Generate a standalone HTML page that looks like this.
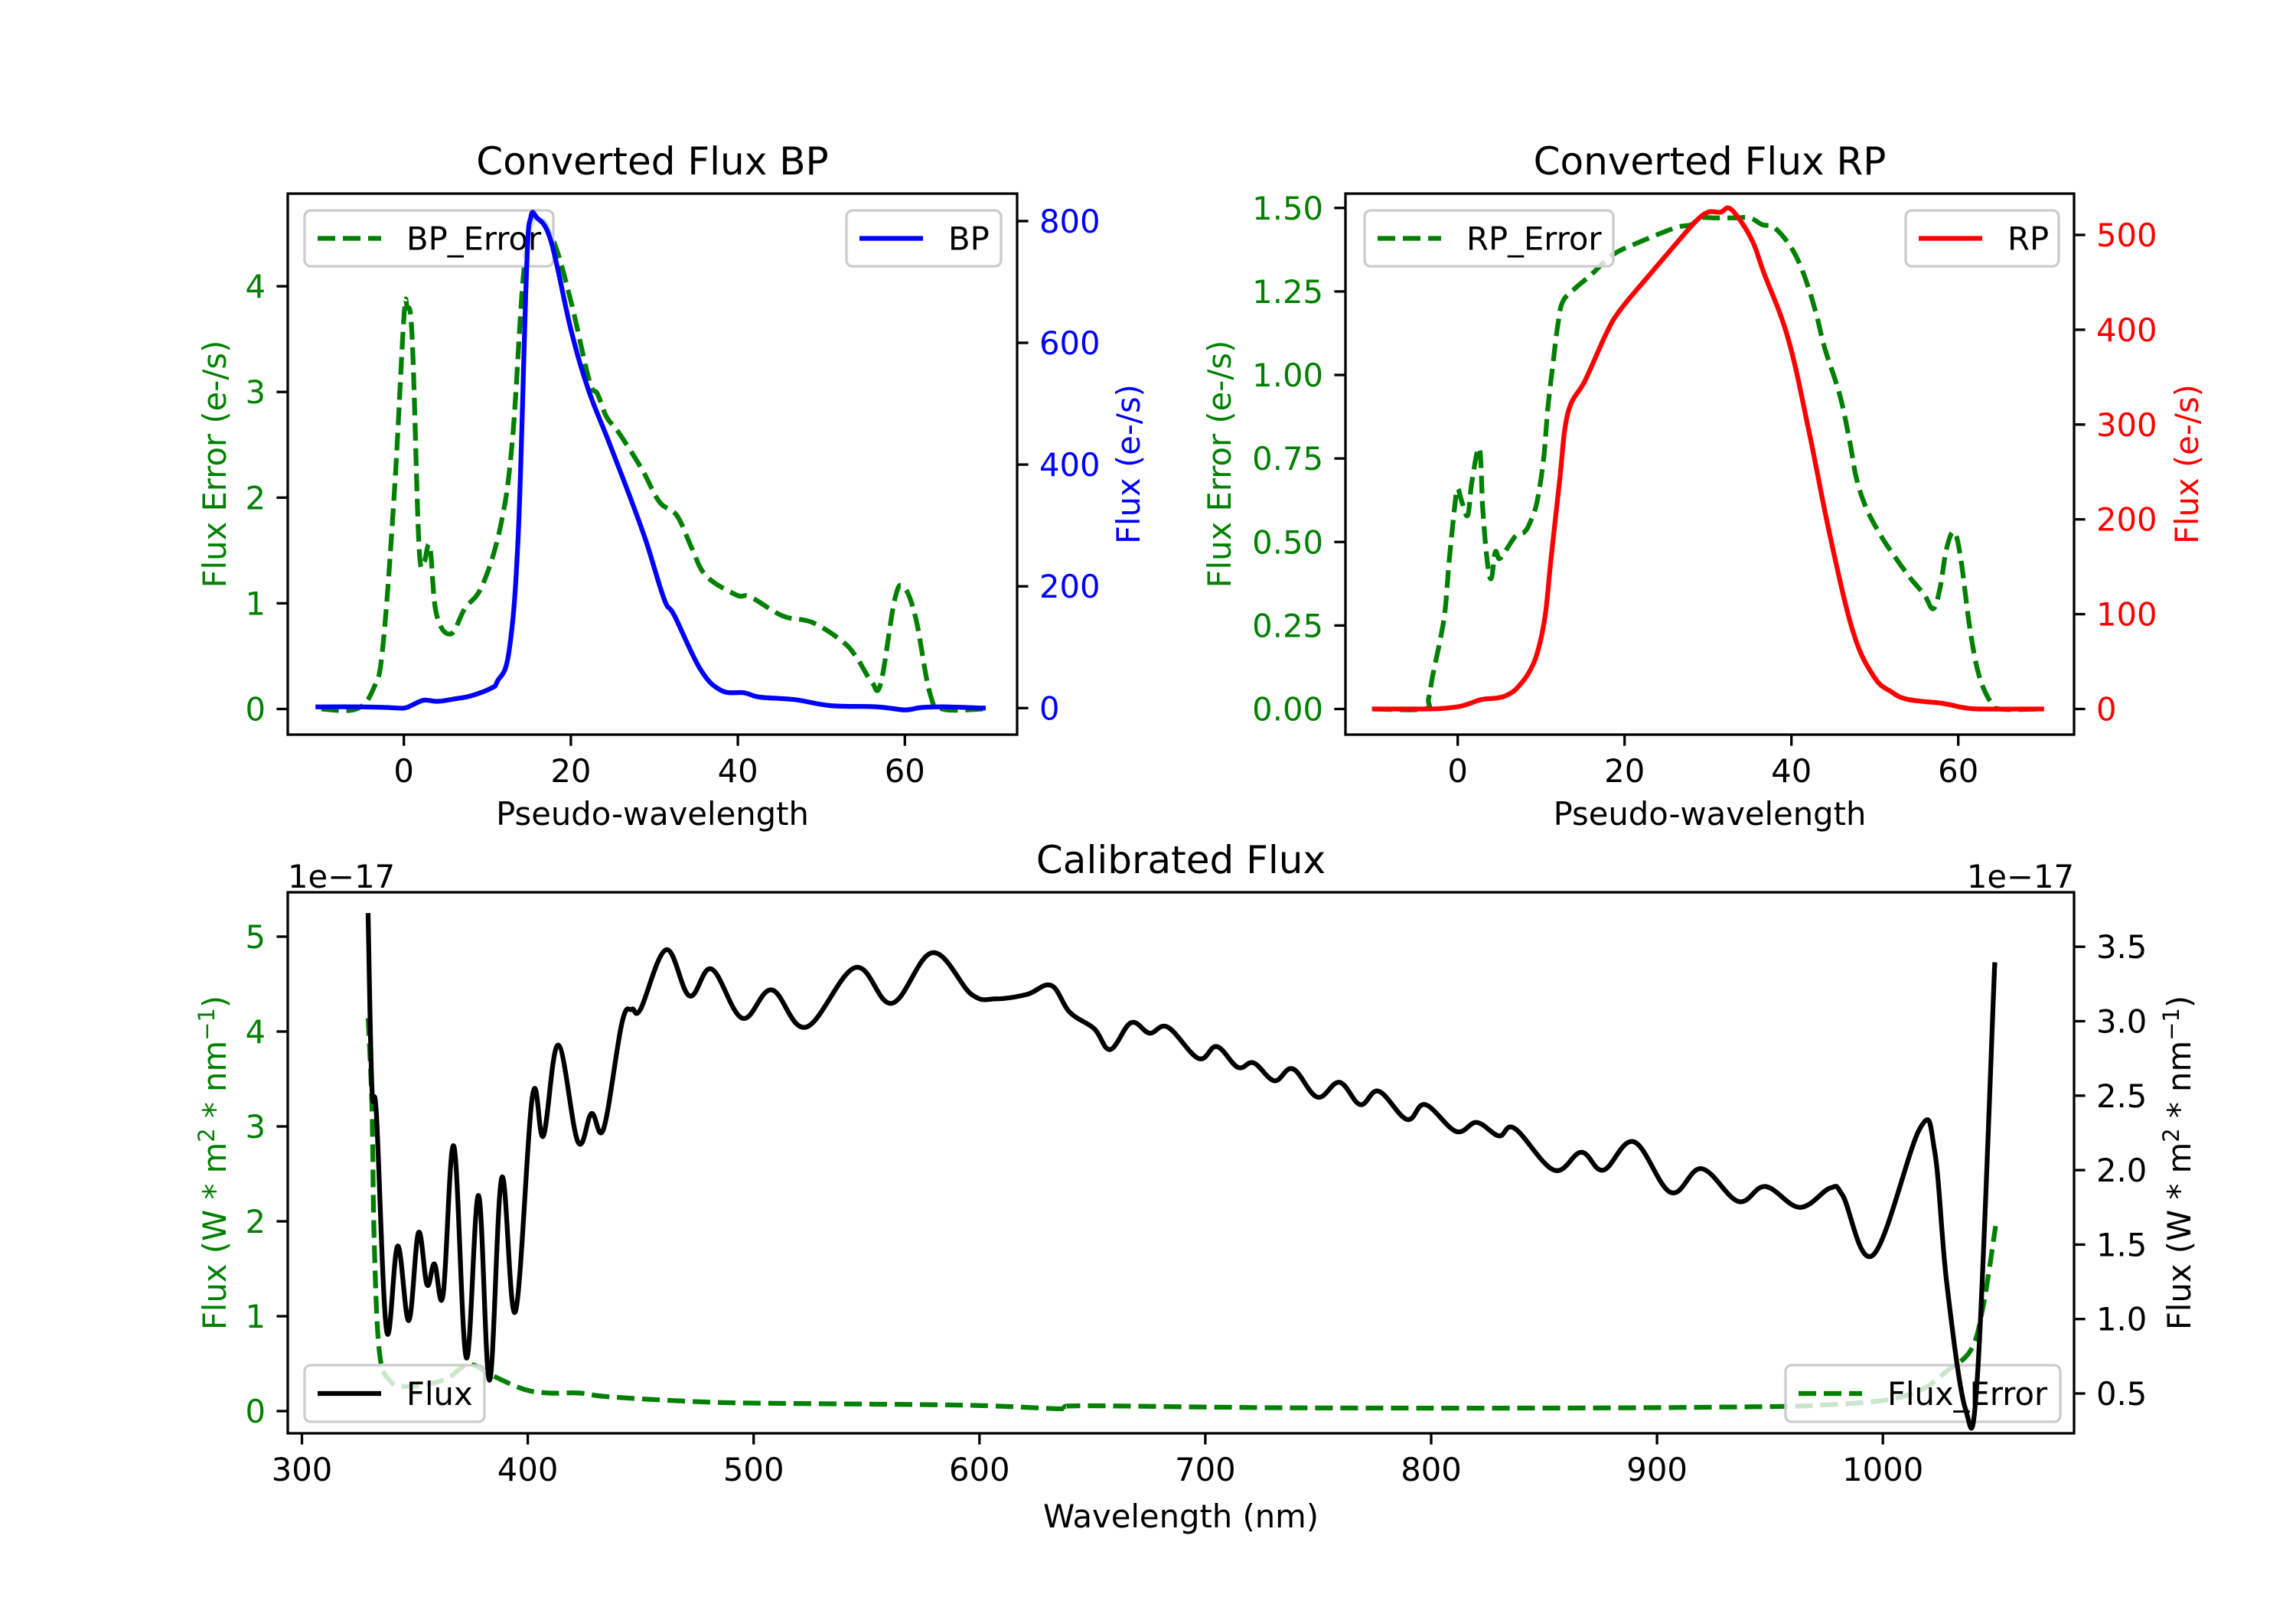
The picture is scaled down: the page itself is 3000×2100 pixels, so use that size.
<!DOCTYPE html>
<html><head><meta charset="utf-8"><style>
html,body{margin:0;padding:0;background:#fff;}
svg{display:block;font-family:"DejaVu Sans","Liberation Sans",sans-serif;}
</style></head><body>
<svg id="fig" xmlns="http://www.w3.org/2000/svg" width="3000" height="2100" viewBox="0 0 3000 2100">
<rect width="3000" height="2100" fill="#fff"/>
</svg>
<script>
// ---- Data: BP panel ----
const bpX = [-10.3,-5,-2,0,1,2.4,4,6,8,10.5,11.2,12.6,13.7,14.7,15.2,15.9,17.6,20.0,22.1,24.5,27.3,29.1,31.2,32.4,35.5,38.0,40.8,42.6,46.8,51.1,56.7,60,62,65,69.4];
const bpFlux = [2,2,1,0,5,13,11,15,20,33,44,94,286,722,806,806,768,622,523,439,339,270,178,152,64,29,25,18,14,4,2,-3,1,2,0];
const bpErrX = [-9.9,-5.7,-3.6,-2.5,-1.1,0,0.4,1.0,1.8,2.4,3.1,3.9,5.6,7.3,9.4,11.6,13.0,14.4,15.8,17.9,20.0,22.2,23.2,24.3,25.7,28.5,30.6,32.7,34.5,36.2,39.8,41.5,45.4,48.9,52.5,54.2,56.0,57.1,58.8,59.9,61.3,63.0,64.5,69.4];
const bpErr = [0,0,0.2,0.6,2.1,3.7,3.8,3.5,1.57,1.39,1.54,0.9,0.71,0.95,1.17,1.74,2.54,4.17,4.65,4.43,3.86,3.11,2.98,2.76,2.62,2.27,1.96,1.83,1.52,1.26,1.08,1.06,0.88,0.82,0.64,0.49,0.26,0.24,1.04,1.15,0.86,0.15,0,0];
// ---- Data: RP panel ----
const rpX = [-10,-4,-2,0.1,1.5,2.9,5,6.2,7.1,8.5,9.6,10.5,11.2,12.2,13.2,15.3,17.8,19.4,22.7,26.0,28.5,30,31.5,32.6,34.2,35.5,36.7,39.6,42.1,44.6,47.4,49.9,52,54.0,58.1,60.6,63,70];
const rpFlux = [0,0,0.5,2.5,6,10,12,16,22,38,61,100,160,240,312,347,396,420,455,489,514,524,524,528,511,490,460,391,293,184,81,34,18,10,6,1.5,0,0];
const rpErrX = [-10,-4,-3.5,-3,-2,-1.5,-1,-0.3,0,0.5,1.2,1.7,2.6,3,3.5,4,4.5,5,5.9,7,8,8.7,9.5,10.3,10.8,11.5,12,12.6,14.1,16,18.6,22,26,28,29,31,33,35,36.5,38,40,41.5,42.9,44,45.8,47,47.8,49,50.7,52,54,55,56,57,57.8,58.6,59.5,60.3,61.4,62.5,63.9,65,70];
const rpErr = [0,0,0.03,0.1,0.22,0.3,0.45,0.62,0.66,0.62,0.58,0.68,0.78,0.6,0.45,0.39,0.47,0.45,0.48,0.52,0.53,0.56,0.62,0.75,0.9,1.05,1.15,1.22,1.26,1.3,1.36,1.4,1.44,1.45,1.47,1.47,1.47,1.47,1.45,1.44,1.38,1.3,1.19,1.08,0.94,0.8,0.69,0.6,0.52,0.47,0.40,0.37,0.34,0.30,0.36,0.48,0.53,0.45,0.24,0.1,0.02,0,0];
// ---- Data: Calibrated flux ----
const calWl = [329.3,331,333,337.5,342.4,347.3,351.6,355.4,358.7,362.5,367.3,372.8,378.2,383.1,388.5,394.5,402.1,406.9,413.5,422.2,428.2,433.6,441.7,446.1,449.9,461.3,471.6,481.4,495,508,523.2,545,561.2,579.2,596.5,607.4,621,631.8,640,650.8,657.9,667.1,675.3,683.4,697,705.1,714.4,721.4,730.6,738.8,749.6,759.4,768.6,776.8,789.3,797.4,811,820.2,830,837,854.4,866.5,876.2,889.8,906.1,919.7,936,948,963.2,976.7,982.2,995.7,1016.4,1022.9,1028.3,1036.5,1041.9,1049.5];
const calFlux = [3.71,2.55,2.37,0.92,1.49,0.99,1.58,1.23,1.37,1.16,2.16,0.74,1.83,0.59,1.95,1.05,2.50,2.23,2.84,2.19,2.38,2.28,2.99,3.08,3.08,3.48,3.17,3.35,3.02,3.21,2.96,3.36,3.12,3.46,3.18,3.15,3.18,3.24,3.06,2.95,2.81,2.99,2.92,2.96,2.75,2.83,2.69,2.72,2.60,2.68,2.49,2.59,2.44,2.53,2.34,2.44,2.26,2.32,2.23,2.28,2.00,2.12,2.00,2.19,1.85,2.01,1.79,1.89,1.75,1.88,1.83,1.43,2.28,2.13,1.24,0.40,0.62,3.38];
const errWl = [329.3,331,332,334.2,338.6,346.7,363,373.9,384.7,398.3,409.2,422.7,436.3,474.3,501.5,566.7,604.7,637.3,642.7,702.4,756.7,865.4,946.8,973.9,1001,1017.4,1028.2,1039.1,1044.5,1049.9];
const errVal = [4.14,3.21,1.81,0.65,0.33,0.26,0.33,0.49,0.37,0.23,0.19,0.19,0.15,0.10,0.084,0.07,0.056,0.023,0.056,0.042,0.033,0.033,0.047,0.065,0.116,0.23,0.42,0.65,1.12,1.95];
// ---- Tick labels ----
const bpXTicks = [0,20,40,60];
const bpLTicks = [0,1,2,3,4];
const bpRTicks = [0,200,400,600,800];
const rpXTicks = [0,20,40,60];
const rpLTicks = [0,0.25,0.5,0.75,1.0,1.25,1.5];
const rpRTicks = [0,100,200,300,400,500];
const calXTicks = [300,400,500,600,700,800,900,1000];
const calLTicks = [0,1,2,3,4,5];
const calRTicks = [0.5,1.0,1.5,2.0,2.5,3.0,3.5];

const NS = "http://www.w3.org/2000/svg";
const svg = document.getElementById('fig');
function mk(tag, attrs, parent, text){
  const e = document.createElementNS(NS, tag);
  for (const k in attrs) e.setAttribute(k, attrs[k]);
  if (text !== undefined) e.textContent = text;
  (parent || svg).appendChild(e);
  return e;
}
function lin(v0, p0, scale){ return v => p0 + (v - v0) * scale; }
function pathFrom(xs, ys, fx, fy){
  const P = xs.map((x, i) => [fx(x), fy(ys[i])]);
  let d = 'M' + P[0][0].toFixed(1) + ' ' + P[0][1].toFixed(1);
  for (let i = 0; i < P.length - 1; i++){
    const p0 = P[Math.max(0, i - 1)], p1 = P[i], p2 = P[i + 1], p3 = P[Math.min(P.length - 1, i + 2)];
    const t = 0.18;
    const c1 = [p1[0] + (p2[0] - p0[0]) * t, p1[1] + (p2[1] - p0[1]) * t];
    const c2 = [p2[0] - (p3[0] - p1[0]) * t, p2[1] - (p3[1] - p1[1]) * t];
    d += 'C' + c1[0].toFixed(1) + ' ' + c1[1].toFixed(1) + ' ' + c2[0].toFixed(1) + ' ' + c2[1].toFixed(1) + ' ' + p2[0].toFixed(1) + ' ' + p2[1].toFixed(1);
  }
  return d;
}
const FS = 41.7;

function panel(cfg){
  const g = mk('g', {});
  
  
  const clipId = cfg.name + '-clip';
  const cp = mk('clipPath', {id: clipId}, g);
  mk('rect', {x: cfg.x0, y: cfg.y0, width: cfg.x1 - cfg.x0, height: cfg.y1 - cfg.y0}, cp);
  return {g, clip: 'url(#' + clipId + ')'};
}
function drawLine(g, clip, xs, ys, fx, fy, color, dashed, name){
  const p = mk('path', {d: pathFrom(xs, ys, fx, fy), fill: 'none', stroke: color, 'stroke-width': 6.25,
    'stroke-linejoin': 'round', 'stroke-linecap': dashed ? 'butt' : 'square', 'clip-path': clip}, g);
  if (dashed) p.setAttribute('stroke-dasharray', '23 10');
  
  
}
function legend(g, x, y, w, h, label, color, dashed, name){
  const lg = mk('g', {}, g);
  
  
  mk('rect', {x, y, width: w, height: h, rx: 8, fill: '#fff', 'fill-opacity': 0.8, stroke: '#cccccc', 'stroke-width': 3.3}, lg);
  const ln = mk('line', {x1: x + 17, x2: x + 100, y1: y + h/2, y2: y + h/2, stroke: color, 'stroke-width': 6.25}, lg);
  if (dashed) ln.setAttribute('stroke-dasharray', '23 10');
  mk('text', {x: x + 133, y: y + h/2 + 15, 'font-size': FS, fill: '#000'}, lg, label);
}
function xTicks(g, ticks, fx, yb, fmt){
  ticks.forEach(t => {
    const X = fx(t);
    mk('line', {x1: X, x2: X, y1: yb, y2: yb + 14.6, stroke: '#000', 'stroke-width': 3.3}, g);
    const tx = mk('text', {x: X, y: yb + 62, 'font-size': FS, 'text-anchor': 'middle', fill: '#000'}, g, fmt ? fmt(t) : String(t));
    
    
  });
}
function yTicks(g, ticks, fy, xs, side, color, fmt){
  ticks.forEach(t => {
    const Y = fy(t);
    const dx = side === 'left' ? -14.6 : 14.6;
    mk('line', {x1: xs, x2: xs + dx, y1: Y, y2: Y, stroke: '#000', 'stroke-width': 3.3}, g);
    const tx = mk('text', {x: side === 'left' ? xs - 29 : xs + 29, y: Y + 15, 'font-size': FS,
      'text-anchor': side === 'left' ? 'end' : 'start', fill: color}, g, fmt ? fmt(t) : String(t));
    
    
  });
}
function vlabel(g, x, y, text, color, name){
  const t = mk('text', {x, y, 'font-size': FS, 'text-anchor': 'middle', fill: color, transform: 'rotate(-90 ' + x + ' ' + y + ')'}, g);
  t.innerHTML = text;
  
  
}
function frame(g, c){
  mk('rect', {x: c.x0, y: c.y0, width: c.x1 - c.x0, height: c.y1 - c.y0, fill: 'none', stroke: '#000', 'stroke-width': 3.3}, g);
}
function title(g, c, text, name){
  const t = mk('text', {x: (c.x0 + c.x1)/2, y: c.y0 - 25, 'font-size': 50, 'text-anchor': 'middle', fill: '#000'}, g, text);
  
  
}

// ---------- BP ----------
(function(){
  const c = {name: 'bp-panel', x0: 376, x1: 1329, y0: 253, y1: 960};
  const {g, clip} = panel(c);
  const fx = lin(0, 527.7, 10.91), fyL = lin(0, 926.5, -138.1), fyR = lin(0, 925.3, -0.7955);
  drawLine(g, clip, bpErrX, bpErr, fx, fyL, '#008000', true, 'bp-error-line');
  legend(g, 398, 275, 325, 73, 'BP_Error', '#008000', true, 'bp-error-legend');
  drawLine(g, clip, bpX, bpFlux, fx, fyR, '#0000ff', false, 'bp-flux-line');
  legend(g, 1106, 275, 202, 73, 'BP', '#0000ff', false, 'bp-legend');
  frame(g, c);
  xTicks(g, bpXTicks, fx, c.y1);
  yTicks(g, bpLTicks, fyL, c.x0, 'left', '#008000');
  yTicks(g, bpRTicks, fyR, c.x1, 'right', '#0000ff');
  title(g, c, 'Converted Flux BP', 'bp-title');
  const xl = mk('text', {x: (c.x0 + c.x1)/2, y: 1078, 'font-size': FS, 'text-anchor': 'middle'}, g, 'Pseudo-wavelength');
   
  vlabel(g, 295, (c.y0 + c.y1)/2, 'Flux Error (e-/s)', '#008000', 'bp-left-y-title');
  vlabel(g, 1489, (c.y0 + c.y1)/2, 'Flux (e-/s)', '#0000ff', 'bp-right-y-title');
})();

// ---------- RP ----------
(function(){
  const c = {name: 'rp-panel', x0: 1758, x1: 2710, y0: 253, y1: 960};
  const {g, clip} = panel(c);
  const fx = lin(0, 1904.7, 10.9), fyL = lin(0, 926.5, -436.5), fyR = lin(0, 926.5, -1.239);
  drawLine(g, clip, rpErrX, rpErr, fx, fyL, '#008000', true, 'rp-error-line');
  legend(g, 1783, 275, 325, 73, 'RP_Error', '#008000', true, 'rp-error-legend');
  drawLine(g, clip, rpX, rpFlux, fx, fyR, '#ff0000', false, 'rp-flux-line');
  legend(g, 2490, 275, 200, 73, 'RP', '#ff0000', false, 'rp-legend');
  frame(g, c);
  xTicks(g, rpXTicks, fx, c.y1);
  yTicks(g, rpLTicks, fyL, c.x0, 'left', '#008000', v => v.toFixed(2));
  yTicks(g, rpRTicks, fyR, c.x1, 'right', '#ff0000');
  title(g, c, 'Converted Flux RP', 'rp-title');
  const xl = mk('text', {x: (c.x0 + c.x1)/2, y: 1078, 'font-size': FS, 'text-anchor': 'middle'}, g, 'Pseudo-wavelength');
   
  vlabel(g, 1608, (c.y0 + c.y1)/2, 'Flux Error (e-/s)', '#008000', 'rp-left-y-title');
  vlabel(g, 2872, (c.y0 + c.y1)/2, 'Flux (e-/s)', '#ff0000', 'rp-right-y-title');
})();

// ---------- Calibrated ----------
(function(){
  const c = {name: 'calibrated-panel', x0: 376, x1: 2710, y0: 1166, y1: 1873};
  const {g, clip} = panel(c);
  const fx = lin(300, 394.5, 2.951), fyL = lin(0, 1844, -124), fyR = lin(0.5, 1821, -194.6);
  drawLine(g, clip, errWl, errVal, fx, fyL, '#008000', true, 'flux-error-line');
  legend(g, 2333, 1784, 359, 74, 'Flux_Error', '#008000', true, 'flux-error-legend');
  drawLine(g, clip, calWl, calFlux, fx, fyR, '#000000', false, 'flux-line');
  legend(g, 398, 1784, 235, 74, 'Flux', '#000000', false, 'flux-legend');
  frame(g, c);
  xTicks(g, calXTicks, fx, c.y1);
  yTicks(g, calLTicks, fyL, c.x0, 'left', '#008000');
  yTicks(g, calRTicks, fyR, c.x1, 'right', '#000000', v => v.toFixed(1));
  title(g, c, 'Calibrated Flux', 'calibrated-title');
  const xl = mk('text', {x: (c.x0 + c.x1)/2, y: 1996, 'font-size': FS, 'text-anchor': 'middle'}, g, 'Wavelength (nm)');
   
  const o1 = mk('text', {x: 376, y: 1160, 'font-size': FS}, g, '1e\u221217');
   
  const o2 = mk('text', {x: 2710, y: 1160, 'font-size': FS, 'text-anchor': 'end'}, g, '1e\u221217');
   
  vlabel(g, 295, (c.y0 + c.y1)/2, 'Flux (W * m<tspan dy="-15" font-size="29">2</tspan><tspan dy="15"> * nm</tspan><tspan dy="-15" font-size="29">\u22121</tspan><tspan dy="15">)</tspan>', '#008000', 'calibrated-left-y-title');
  vlabel(g, 2862, (c.y0 + c.y1)/2, 'Flux (W * m<tspan dy="-15" font-size="29">2</tspan><tspan dy="15"> * nm</tspan><tspan dy="-15" font-size="29">\u22121</tspan><tspan dy="15">)</tspan>', '#000000', 'calibrated-right-y-title');
})();
</script>
</body></html>
